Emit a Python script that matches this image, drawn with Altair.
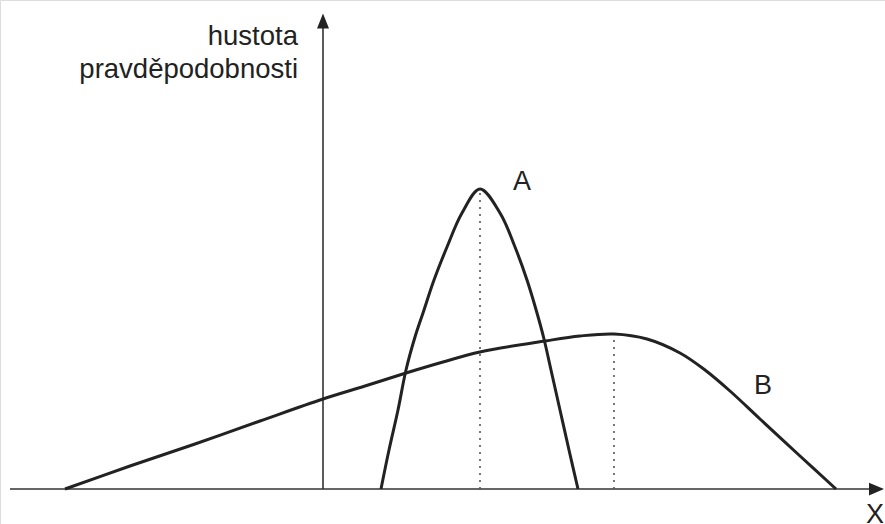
import altair as alt
import pandas as pd

# Curve A: narrow, tall density (x, density)
a_x = [0.58, 0.66, 0.75, 0.83, 0.92, 1.00, 1.11, 1.24, 1.39, 1.57,
       1.77, 1.92, 2.04, 2.14, 2.21, 2.28, 2.37, 2.46, 2.55]
a_y = [0.00, 0.39, 0.79, 1.19, 1.52, 1.76, 2.09, 2.42, 2.76, 3.00,
       2.76, 2.42, 2.09, 1.76, 1.50, 1.19, 0.79, 0.39, 0.00]

# Curve B: wide, flat, skewed density
b_x = [-2.58, -1.93, -1.28, -0.63, 0.00, 0.42, 0.83, 1.20, 1.57, 2.22,
       2.57, 2.91, 3.24, 3.57, 3.82, 4.07, 4.37, 4.77, 5.13]
b_y = [0.00, 0.23, 0.45, 0.68, 0.90, 1.03, 1.16, 1.27, 1.37, 1.48,
       1.53, 1.55, 1.50, 1.36, 1.19, 0.98, 0.70, 0.33, 0.00]

# Modes of both curves (dotted drop lines)
mode_x = [1.57, 2.91]
mode_y = [3.00, 1.55]

# Axis extents
x_axis_start, x_axis_end = -3.13, 5.55
y_axis_top = 4.72

# Text labels
y_title = ["hustota", "pravděpodobnosti"]
y_title_x = -0.25
y_title_y = [4.44, 4.11]
curve_labels = ["A", "B", "X"]
curve_label_x = [1.99, 4.40, 5.52]
curve_label_y = [3.07, 1.03, -0.26]

FONT = "Liberation Sans"
X_DOMAIN = [-3.23, 5.62]
Y_DOMAIN = [-0.35, 4.89]

xs = alt.Scale(domain=X_DOMAIN, nice=False, zero=False)
ys = alt.Scale(domain=Y_DOMAIN, nice=False, zero=False)


def X(field="x"):
    return alt.X(f"{field}:Q", scale=xs, axis=None)


def Y(field="y"):
    return alt.Y(f"{field}:Q", scale=ys, axis=None)


curves = pd.concat([
    pd.DataFrame({"x": a_x, "y": a_y, "curve": "A", "i": range(len(a_x))}),
    pd.DataFrame({"x": b_x, "y": b_y, "curve": "B", "i": range(len(b_x))}),
])

axes = pd.DataFrame({
    "x": [x_axis_start, 0.0],
    "x2": [x_axis_end, 0.0],
    "y": [0.0, 0.0],
    "y2": [0.0, y_axis_top],
})

modes = pd.DataFrame({"x": mode_x, "y": [0.0, 0.0], "y2": mode_y})

axis_rules = alt.Chart(axes).mark_rule(color="#333333", strokeWidth=1.6).encode(
    x=X(), x2="x2:Q", y=Y(), y2="y2:Q"
)

mode_rules = alt.Chart(modes).mark_rule(
    color="#555555", strokeWidth=1.6, strokeDash=[2, 5]
).encode(x=X(), y=Y(), y2="y2:Q")

lines = alt.Chart(curves).mark_line(
    color="#222222", strokeWidth=3, interpolate="catmull-rom"
).encode(x=X(), y=Y(), detail="curve:N", order="i:Q")

# Arrow heads
arrow_right = alt.Chart(pd.DataFrame({"x": [X_DOMAIN[1] - 0.085], "y": [0.0]})).mark_point(
    shape="M1,0L-1,-0.85L-1,0.85Z", size=225, filled=True, opacity=1, color="#222222"
).encode(x=X(), y=Y())

arrow_up = alt.Chart(pd.DataFrame({"x": [0.0], "y": [y_axis_top - 0.04]})).mark_point(
    shape="M0,-1L-0.8,1L0.8,1Z", size=225, filled=True, opacity=1, color="#222222"
).encode(x=X(), y=Y())

title_df = pd.DataFrame({"t": y_title, "x": [y_title_x] * 2, "y": y_title_y})
title_text = alt.Chart(title_df).mark_text(
    align="right", baseline="alphabetic", font=FONT, fontSize=27.5, color="#222222"
).encode(x=X(), y=Y(), text="t:N")

label_df = pd.DataFrame({"t": curve_labels, "x": curve_label_x, "y": curve_label_y})
label_text = alt.Chart(label_df).mark_text(
    align="center", baseline="middle", font=FONT, fontSize=27, color="#222222"
).encode(x=X(), y=Y(), text="t:N")

chart = alt.layer(
    axis_rules, mode_rules, lines, arrow_right, arrow_up, title_text, label_text
).properties(
    width=885, height=524, padding=0, autosize=alt.AutoSizeParams(type="none")
).configure_view(stroke=None).configure(background="white")

chart.save("out.html", embed_options={"renderer": "svg", "actions": False})
